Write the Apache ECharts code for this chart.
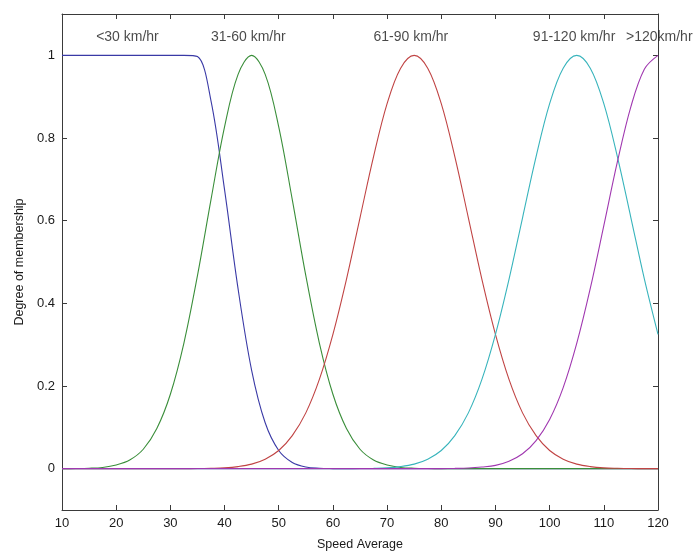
<!DOCTYPE html>
<html>
<head>
<meta charset="utf-8">
<script src="https://cdn.jsdelivr.net/npm/echarts@6/dist/echarts.min.js"></script>
<style>
  html, body { margin: 0; padding: 0; background: #fff; }
  #chart { width: 698px; height: 556px; }
</style>
</head>
<body>
<div id="chart"></div>
<script>
// speed samples (km/hr)
var xs = [10, 12.5, 15, 17.5, 20, 22.5, 25, 27.5, 30, 32.5, 35, 37.5, 40, 42.5, 45, 47.5, 50, 52.5, 55, 57.5,
  60, 62.5, 65, 67.5, 70, 72.5, 75, 77.5, 80, 82.5, 85, 87.5, 90, 92.5, 95, 97.5, 100, 102.5, 105, 107.5,
  110, 112.5, 115, 117.5, 120];

// membership
var slow = [1, 1, 1, 1, 1, 1, 1, 1, 1, 1, 0.997, 0.890, 0.675, 0.435, 0.238, 0.111, 0.044, 0.015, 0.004, 0.001,
  0.0002, 0, 0, 0, 0, 0, 0, 0, 0, 0, 0, 0, 0, 0, 0, 0, 0, 0, 0, 0,
  0, 0, 0, 0, 0];
var mid1 = [0.0001, 0.0003, 0.001, 0.003, 0.009, 0.021, 0.047, 0.097, 0.180, 0.304, 0.467, 0.651, 0.827, 0.954, 1, 0.954, 0.827, 0.651, 0.467, 0.304,
  0.180, 0.097, 0.047, 0.021, 0.009, 0.003, 0.001, 0.0003, 0.0001, 0, 0, 0, 0, 0, 0, 0, 0, 0, 0, 0,
  0, 0, 0, 0, 0];
var mid2 = [0, 0, 0, 0, 0, 0, 0, 0, 0, 0.0001, 0.0003, 0.0009, 0.002, 0.005, 0.011, 0.023, 0.044, 0.080, 0.135, 0.216,
  0.325, 0.458, 0.607, 0.755, 0.883, 0.969, 1, 0.969, 0.883, 0.755, 0.607, 0.458, 0.325, 0.216, 0.135, 0.080, 0.044, 0.023, 0.011, 0.005,
  0.002, 0.0009, 0.0003, 0.0001, 0];
var mid3 = [0, 0, 0, 0, 0, 0, 0, 0, 0, 0, 0, 0, 0, 0, 0, 0, 0, 0, 0, 0,
  0, 0.0001, 0.0003, 0.0009, 0.002, 0.005, 0.011, 0.023, 0.044, 0.080, 0.135, 0.216, 0.325, 0.458, 0.607, 0.755, 0.883, 0.969, 1, 0.969,
  0.883, 0.755, 0.607, 0.458, 0.325];
var fast = [0, 0, 0, 0, 0, 0, 0, 0, 0, 0, 0, 0, 0, 0, 0, 0, 0, 0, 0, 0,
  0, 0, 0, 0, 0, 0, 0, 0.0001, 0.0002, 0.0006, 0.0015, 0.004, 0.008, 0.018, 0.036, 0.068, 0.119, 0.196, 0.303, 0.436,
  0.588, 0.742, 0.876, 0.967, 1];

var seriesNames = ['<30 km/hr', '31-60 km/hr', '61-90 km/hr', '91-120 km/hr', '>120km/hr'];
var seriesColors = ['#3a3aa6', '#3a8e3a', '#c04444', '#38b4bc', '#a038b0'];

// text labels above the curves (left edge x, y in data units)
var labelX = [16.3, 37.5, 67.5, 96.9, 114.1];
var labelY = 1.045;

var yTicks = [0, 0.2, 0.4, 0.6, 0.8, 1];

var font = "'Liberation Sans', Arial, sans-serif";
var lineColor = '#3a3a3a';

var chart = echarts.init(document.getElementById('chart'));

var allY = [slow, mid1, mid2, mid3, fast];
var series = allY.map(function (ys, k) {
  return {
    name: seriesNames[k],
    type: 'line',
    data: xs.map(function (x, i) { return [x, ys[i]]; }),
    smooth: 0.35,
    showSymbol: false,
    lineStyle: { width: 1.1, color: seriesColors[k] },
    itemStyle: { color: seriesColors[k] },
    silent: true,
    z: 2 + k
  };
});

series.push({
  type: 'scatter',
  symbolSize: 0,
  silent: true,
  data: seriesNames.map(function (n, k) { return { name: n, value: [labelX[k], labelY] }; }),
  label: {
    show: true,
    position: 'right',
    distance: 0,
    formatter: '{b}',
    color: '#1a1a1a',
    fontSize: 14,
    fontFamily: font
  },
  z: 10
});

function xAxisDef(pos, show) {
  return {
    type: 'value',
    position: pos,
    min: 10,
    max: 120,
    interval: 10,
    name: show ? 'Speed Average' : '',
    nameLocation: 'middle',
    nameGap: 28,
    nameTextStyle: { color: '#1a1a1a', fontSize: 12.5, fontFamily: font },
    axisLine: { show: true, onZero: false, lineStyle: { color: lineColor, width: 1 } },
    axisTick: { show: true, inside: true, length: 5, lineStyle: { color: lineColor } },
    axisLabel: { show: show, color: '#1a1a1a', fontSize: 13, fontFamily: font, margin: 7 },
    splitLine: { show: false }
  };
}

function yAxisDef(pos, show) {
  return {
    type: 'value',
    position: pos,
    min: -0.1,
    max: 1.1,
    name: show ? 'Degree of membership' : '',
    nameLocation: 'middle',
    nameGap: 33,
    nameTextStyle: { color: '#1a1a1a', fontSize: 12.5, fontFamily: font },
    axisLine: { show: true, onZero: false, lineStyle: { color: lineColor, width: 1 } },
    axisTick: { show: true, inside: true, length: 5, customValues: yTicks, lineStyle: { color: lineColor } },
    axisLabel: { show: show, customValues: yTicks, color: '#1a1a1a', fontSize: 13, fontFamily: font, margin: 7 },
    splitLine: { show: false }
  };
}

var option = {
  animation: false,
  backgroundColor: '#fff',
  grid: { left: 62, right: 40, top: 14, bottom: 44, containLabel: false },
  xAxis: [xAxisDef('bottom', true), xAxisDef('top', false)],
  yAxis: [yAxisDef('left', true), yAxisDef('right', false)],
  series: series
};

chart.setOption(option);
</script>
</body>
</html>
